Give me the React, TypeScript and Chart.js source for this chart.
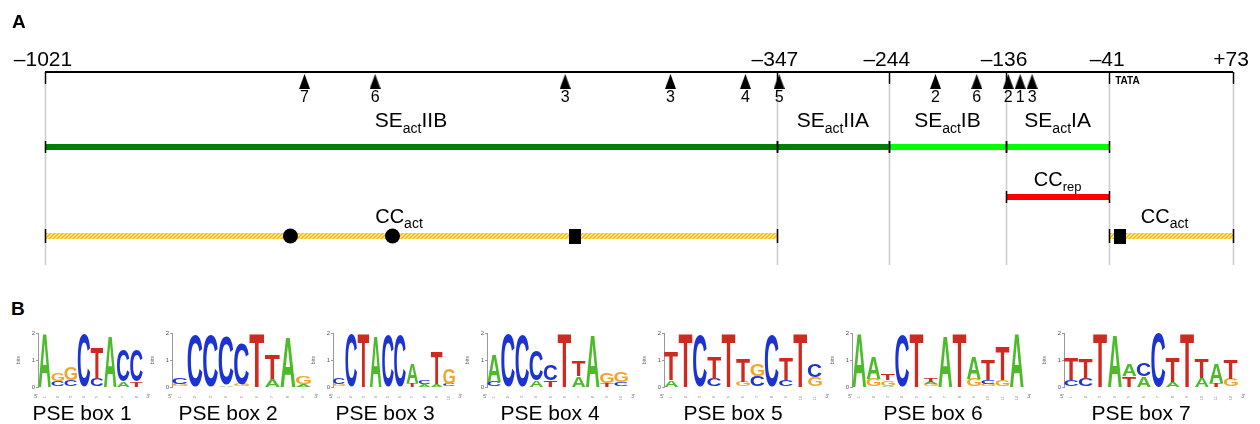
import React, { useEffect, useRef } from 'react';
import { Chart, registerables } from 'chart.js';
Chart.register(...registerables);

// ---------------- Panel A data (bp positions) ----------------
const AXIS_START = -1021;
const AXIS_END = 73;
const AXIS_TICKS = [-1021, -347, -244, -136, -41, 73];
const AXIS_TICK_LABELS = ['–1021', '–347', '–244', '–136', '–41', '+73'];
const ARROW_POS = [-782, -717, -542, -445, -376, -345, -201, -163, -134, -123, -112];
const ARROW_LABELS = ['7', '6', '3', '3', '4', '5', '2', '6', '2', '1', '3'];
const SE_START = [-1021, -347, -244, -136];
const SE_END = [-347, -244, -136, -41];
const SE_NAMES = ['IIB', 'IIA', 'IB', 'IA'];
const SE_COLORS = ['#008000', '#008000', '#00ff00', '#00ff00'];
const CCREP_START = [-136];
const CCREP_END = [-41];
const CCACT_START = [-1021, -41];
const CCACT_END = [-347, 73];
const CCACT_LABEL_POS = [-695, 10];
const CIRCLE_POS = [-795, -701];
const SQUARE_POS = [-533, -31];
const TATA_POS = -41;

// ---------------- Panel B data (sequence logos, bottom -> top, bits) ----------------
type Col = [string, number][];
const PSE1: Col[] = [
  [['A', 2.0]],
  [['C', 0.2], ['G', 0.28]],
  [['C', 0.25], ['G', 0.5]],
  [['C', 1.95]],
  [['C', 0.3], ['T', 1.15]],
  [['A', 1.9]],
  [['A', 0.2], ['C', 1.15]],
  [['T', 0.2], ['C', 1.15]],
];
const PSE2: Col[] = [
  [['G', 0.12], ['C', 0.25]],
  [['C', 1.9]],
  [['C', 1.9]],
  [['A', 0.08], ['C', 1.82]],
  [['G', 0.1], ['C', 1.5]],
  [['T', 2.0]],
  [['A', 0.3], ['T', 0.9]],
  [['A', 1.85]],
  [['A', 0.12], ['G', 0.3]],
];
const PSE3: Col[] = [
  [['G', 0.1], ['C', 0.25]],
  [['C', 1.95]],
  [['T', 2.0]],
  [['A', 1.9]],
  [['C', 1.9]],
  [['C', 1.9]],
  [['T', 0.15], ['A', 0.7]],
  [['A', 0.1], ['C', 0.12]],
  [['A', 0.12], ['T', 1.2]],
  [['C', 0.12], ['G', 0.6]],
];
const PSE4: Col[] = [
  [['C', 0.2], ['A', 1.0]],
  [['C', 1.95]],
  [['C', 1.9]],
  [['A', 0.25], ['C', 1.1]],
  [['T', 0.25], ['C', 0.6]],
  [['T', 2.0]],
  [['A', 0.4], ['T', 0.55]],
  [['A', 1.95]],
  [['T', 0.15], ['G', 0.4]],
  [['C', 0.18], ['G', 0.4]],
];
const PSE5: Col[] = [
  [['A', 0.25], ['T', 1.05]],
  [['T', 2.0]],
  [['C', 1.9]],
  [['C', 0.3], ['T', 0.8]],
  [['T', 2.0]],
  [['G', 0.2], ['T', 0.85]],
  [['C', 0.4], ['G', 0.45]],
  [['C', 1.9]],
  [['C', 0.25], ['T', 0.8]],
  [['T', 2.0]],
  [['G', 0.35], ['C', 0.5]],
];
const PSE6: Col[] = [
  [['A', 2.0]],
  [['G', 0.3], ['A', 0.8]],
  [['A', 0.05], ['G', 0.2], ['T', 0.25]],
  [['C', 1.9]],
  [['T', 2.0]],
  [['G', 0.1], ['A', 0.1], ['T', 0.15]],
  [['A', 1.9]],
  [['T', 2.0]],
  [['G', 0.3], ['A', 0.8]],
  [['G', 0.1], ['C', 0.15], ['T', 0.75]],
  [['G', 0.25], ['T', 1.25]],
  [['A', 2.0]],
];
const PSE7: Col[] = [
  [['C', 0.25], ['T', 0.8]],
  [['C', 0.3], ['T', 0.75]],
  [['T', 2.0]],
  [['A', 1.95]],
  [['T', 0.4], ['A', 0.43]],
  [['A', 0.4], ['C', 0.5]],
  [['C', 2.0]],
  [['A', 0.2], ['T', 0.9]],
  [['T', 2.0]],
  [['A', 0.35], ['T', 0.7]],
  [['T', 0.15], ['A', 0.7]],
  [['G', 0.3], ['T', 0.7]],
];
const LOGOS = [PSE1, PSE2, PSE3, PSE4, PSE5, PSE6, PSE7];
const LOGO_NAMES = ['PSE box 1', 'PSE box 2', 'PSE box 3', 'PSE box 4', 'PSE box 5', 'PSE box 6', 'PSE box 7'];

// ---------------- layout / style ----------------
const FAM = '"Liberation Sans", Arial, Helvetica, sans-serif';
const ROW = { axis: 72, tickBottom: 84, arrow: 81.5, arrowLabel: 102, tickLabel: 66, seLabel: 127, se: 147, repLabel: 186, rep: 197, actLabel: 223, act: 236, gridBottom: 265 };
const LOGO_AXIS_X = [38, 172, 333, 487, 664, 852, 1064];
const LOGO_END_X = [143, 311, 455, 628, 822, 1024, 1238];
const LOGO_LABEL_X = [82, 228, 385, 550, 733, 933, 1141];
const LOGO_TOP = 333;
const LETTER_COLORS: Record<string, string> = { A: '#4cbb2a', C: '#1c33d4', G: '#f3a52a', T: '#cf2a1f' };

function drawParts(ctx: CanvasRenderingContext2D, parts: [string, boolean][], cx: number, baseline: number, big: number, small: number, drop: number) {
  const widths = parts.map(([t, sub]) => {
    ctx.font = `${sub ? small : big}px ${FAM}`;
    return ctx.measureText(t).width;
  });
  const total = widths.reduce((a, b) => a + b, 0);
  let x = cx - total / 2;
  ctx.textAlign = 'left';
  ctx.textBaseline = 'alphabetic';
  parts.forEach(([t, sub], i) => {
    ctx.font = `${sub ? small : big}px ${FAM}`;
    ctx.fillText(t, x, baseline + (sub ? drop : 0));
    x += widths[i];
  });
}

function drawLetter(ctx: CanvasRenderingContext2D, ch: string, x0: number, y0: number, w: number, h: number) {
  if (h < 0.4 || w < 0.5) return;
  ctx.save();
  ctx.font = `bold 100px ${FAM}`;
  ctx.textAlign = 'left';
  ctx.textBaseline = 'alphabetic';
  const m = ctx.measureText(ch);
  const gw = m.actualBoundingBoxLeft + m.actualBoundingBoxRight;
  const gh = m.actualBoundingBoxAscent + m.actualBoundingBoxDescent;
  ctx.translate(x0, y0);
  ctx.scale(w / gw, h / gh);
  ctx.fillStyle = LETTER_COLORS[ch] || '#000';
  ctx.fillText(ch, m.actualBoundingBoxLeft, m.actualBoundingBoxAscent);
  ctx.restore();
}

function makeHatch(): CanvasPattern | string {
  const c = document.createElement('canvas');
  c.width = 4; c.height = 4;
  const g = c.getContext('2d');
  if (!g) return '#f5c400';
  g.fillStyle = '#fff5cf';
  g.fillRect(0, 0, 4, 4);
  g.strokeStyle = '#f2bc00';
  g.lineWidth = 1.6;
  g.beginPath();
  g.moveTo(0, 4); g.lineTo(4, 0);
  g.moveTo(-1, 1); g.lineTo(1, -1);
  g.moveTo(3, 5); g.lineTo(5, 3);
  g.stroke();
  const p = g.createPattern(c, 'repeat');
  return p || '#f5c400';
}

function makeShape(w: number, h: number, tri: boolean): HTMLCanvasElement {
  const c = document.createElement('canvas');
  c.width = w; c.height = h;
  const g = c.getContext('2d')!;
  g.fillStyle = '#000';
  if (tri) {
    g.beginPath();
    g.moveTo(w / 2, 0); g.lineTo(w, h); g.lineTo(0, h); g.closePath(); g.fill();
  } else {
    g.fillRect(0, 0, w, h);
  }
  return c;
}

function seg(x1: number, x2: number, y: number) {
  return [{ x: x1, y }, { x: x2, y }];
}

function buildPanelA(canvas: HTMLCanvasElement): Chart {
  const hatch = makeHatch();
  const arrow = makeShape(11, 15, true);
  const square = makeShape(12, 15, false);
  const lineDs = (data: any, color: any, width: number) => ({
    type: 'line' as const, data, borderColor: color, borderWidth: width, pointRadius: 0,
    borderCapStyle: 'butt' as const, showLine: true, fill: false, tension: 0, order: 2,
  });
  const datasets: any[] = [];
  datasets.push({ type: 'scatter', order: 0, data: ARROW_POS.map(x => ({ x, y: ROW.arrow })), pointStyle: arrow, pointRadius: 6, backgroundColor: '#000', borderColor: '#000' });
  datasets.push({ type: 'scatter', order: 0, data: CIRCLE_POS.map(x => ({ x, y: ROW.act })), pointStyle: 'circle', pointRadius: 7.5, backgroundColor: '#000', borderColor: '#000', borderWidth: 0 });
  datasets.push({ type: 'scatter', order: 0, data: SQUARE_POS.map(x => ({ x, y: ROW.act })), pointStyle: square, pointRadius: 6, backgroundColor: '#000', borderColor: '#000' });
  datasets.push(lineDs(seg(AXIS_START, AXIS_END, ROW.axis), '#000', 2));
  SE_START.forEach((s, i) => datasets.push(lineDs(seg(s, SE_END[i], ROW.se), SE_COLORS[i], 6)));
  CCREP_START.forEach((s, i) => datasets.push(lineDs(seg(s, CCREP_END[i], ROW.rep), '#ff0000', 6)));
  CCACT_START.forEach((s, i) => datasets.push(lineDs(seg(s, CCACT_END[i], ROW.act), hatch, 6)));

  const decor = {
    id: 'decor',
    beforeDatasetsDraw(chart: any) {
      const { ctx, scales } = chart;
      const xs = scales.x, ys = scales.y;
      ctx.save();
      ctx.strokeStyle = '#cdcdcd';
      ctx.lineWidth = 1.6;
      AXIS_TICKS.forEach(v => {
        const x = Math.round(xs.getPixelForValue(v)) + 0.5;
        ctx.beginPath();
        ctx.moveTo(x, ys.getPixelForValue(ROW.tickBottom));
        ctx.lineTo(x, ys.getPixelForValue(ROW.gridBottom));
        ctx.stroke();
      });
      ctx.restore();
    },
    afterDatasetsDraw(chart: any) {
      const { ctx, scales } = chart;
      const xs = scales.x, ys = scales.y;
      const px = (v: number) => Math.round(xs.getPixelForValue(v)) + 0.5;
      ctx.save();
      ctx.strokeStyle = '#000';
      ctx.lineWidth = 1.5;
      const tick = (v: number, y: number, half: number) => {
        const yy = ys.getPixelForValue(y);
        ctx.beginPath(); ctx.moveTo(px(v), yy - half); ctx.lineTo(px(v), yy + half); ctx.stroke();
      };
      AXIS_TICKS.forEach(v => {
        ctx.beginPath();
        ctx.moveTo(px(v), ys.getPixelForValue(ROW.axis));
        ctx.lineTo(px(v), ys.getPixelForValue(ROW.tickBottom));
        ctx.stroke();
      });
      SE_START.forEach((s, i) => { tick(s, ROW.se, 6); tick(SE_END[i], ROW.se, 6); });
      CCREP_START.forEach((s, i) => { tick(s, ROW.rep, 6); tick(CCREP_END[i], ROW.rep, 6); });
      CCACT_START.forEach((s, i) => { tick(s, ROW.act, 7); tick(CCACT_END[i], ROW.act, 7); });

      ctx.fillStyle = '#000';
      ctx.font = `bold 19px ${FAM}`;
      ctx.textAlign = 'left'; ctx.textBaseline = 'alphabetic';
      ctx.fillText('A', 12, 28);
      ctx.font = `21px ${FAM}`;
      ctx.textAlign = 'center';
      AXIS_TICKS.forEach((v, i) => ctx.fillText(AXIS_TICK_LABELS[i], xs.getPixelForValue(v) - 2, ys.getPixelForValue(ROW.tickLabel)));
      ctx.font = `16px ${FAM}`;
      ARROW_POS.forEach((v, i) => ctx.fillText(ARROW_LABELS[i], xs.getPixelForValue(v), ys.getPixelForValue(ROW.arrowLabel)));
      ctx.font = `bold 10px ${FAM}`;
      ctx.textAlign = 'left';
      ctx.fillText('TATA', xs.getPixelForValue(TATA_POS) + 6, ys.getPixelForValue(ROW.tickBottom));
      SE_START.forEach((s, i) => {
        const cx = (xs.getPixelForValue(s) + xs.getPixelForValue(SE_END[i])) / 2;
        drawParts(ctx, [['SE', false], ['act', true], [SE_NAMES[i], false]], cx, ys.getPixelForValue(ROW.seLabel), 21, 14, 6);
      });
      CCREP_START.forEach((s, i) => {
        const cx = (xs.getPixelForValue(s) + xs.getPixelForValue(CCREP_END[i])) / 2;
        drawParts(ctx, [['CC', false], ['rep', true]], cx, ys.getPixelForValue(ROW.repLabel), 20, 13, 5);
      });
      CCACT_LABEL_POS.forEach(v => {
        drawParts(ctx, [['CC', false], ['act', true]], xs.getPixelForValue(v), ys.getPixelForValue(ROW.actLabel), 20, 14, 5);
      });
      ctx.restore();
    },
  };

  return new Chart(canvas, {
    type: 'scatter',
    data: { datasets },
    options: {
      animation: false,
      responsive: false,
      events: [],
      layout: { autoPadding: false, padding: { left: 45, right: 27, top: 0, bottom: 0 } },
      plugins: { legend: { display: false }, tooltip: { enabled: false } },
      scales: {
        x: { type: 'linear', min: AXIS_START, max: AXIS_END, display: false },
        y: { type: 'linear', min: 0, max: 290, reverse: true, display: false },
      },
    },
    plugins: [decor],
  } as any);
}

function buildLogo(canvas: HTMLCanvasElement, cols: Col[]): Chart {
  const depth = Math.max(...cols.map(c => c.length));
  const datasets: any[] = [];
  for (let k = 0; k < depth; k++) {
    datasets.push({
      data: cols.map(c => (c[k] ? c[k][1] : 0)),
      letters: cols.map(c => (c[k] ? c[k][0] : '')),
      backgroundColor: 'rgba(0,0,0,0)',
      borderWidth: 0,
      barPercentage: 1,
      categoryPercentage: 1,
    });
  }
  const letters = {
    id: 'letters',
    afterDatasetsDraw(chart: any) {
      const ctx = chart.ctx;
      chart.data.datasets.forEach((ds: any, di: number) => {
        const meta = chart.getDatasetMeta(di);
        meta.data.forEach((el: any, i: number) => {
          const ch = ds.letters[i];
          if (!ch) return;
          const p = el.getProps(['x', 'y', 'base', 'width'], true);
          drawLetter(ctx, ch, p.x - p.width / 2 + 0.3, Math.min(p.y, p.base), p.width - 0.6, Math.abs(p.base - p.y));
        });
      });
      const a = chart.chartArea;
      ctx.save();
      ctx.fillStyle = '#666';
      ctx.font = `5px ${FAM}`;
      ctx.textAlign = 'center';
      ctx.fillText("5'", a.left - 2, a.bottom + 11);
      ctx.fillText("3'", a.right + 5, a.bottom + 11);
      ctx.restore();
    },
  };
  return new Chart(canvas, {
    type: 'bar',
    data: { labels: cols.map((_, i) => String(i + 1)), datasets },
    options: {
      animation: false,
      responsive: false,
      events: [],
      layout: { autoPadding: false, padding: { left: 0, top: 11, right: 10, bottom: 0 } },
      plugins: { legend: { display: false }, tooltip: { enabled: false } },
      scales: {
        x: {
          stacked: true,
          grid: { display: false },
          border: { display: false },
          ticks: { font: { size: 4, family: FAM }, color: '#888', padding: 1, minRotation: 90, maxRotation: 90 },
          afterFit: (s: any) => { s.height = 15; },
        },
        y: {
          stacked: true,
          min: 0,
          max: 2,
          ticks: { stepSize: 1, font: { size: 6, family: FAM }, color: '#555', padding: 1 },
          grid: { display: true, drawOnChartArea: false, tickLength: 2, color: '#999' },
          border: { display: true, color: '#999', width: 1 },
          title: { display: true, text: 'bits', font: { size: 5, family: FAM }, color: '#666', padding: 0 },
          afterFit: (s: any) => { s.width = 22; },
        },
      },
    },
    plugins: [letters],
  } as any);
}

export default function App() {
  const aRef = useRef<HTMLCanvasElement | null>(null);
  const logoRefs = useRef<(HTMLCanvasElement | null)[]>([]);

  useEffect(() => {
    const charts: Chart[] = [];
    if (aRef.current) charts.push(buildPanelA(aRef.current));
    LOGOS.forEach((cols, i) => {
      const c = logoRefs.current[i];
      if (c) charts.push(buildLogo(c, cols));
    });
    return () => charts.forEach(c => c.destroy());
  }, []);

  return (
    <div style={{ position: 'fixed', left: 0, top: 0, width: 1260, height: 424, background: '#fff', overflow: 'hidden', fontFamily: FAM, color: '#000' }}>
      <canvas ref={aRef} width={1260} height={290} style={{ position: 'absolute', left: 0, top: 0 }} />
      {LOGOS.map((_, i) => {
        const left = LOGO_AXIS_X[i] - 22;
        const width = LOGO_END_X[i] - LOGO_AXIS_X[i] + 22 + 10;
        return (
          <canvas
            key={i}
            ref={el => { logoRefs.current[i] = el; }}
            width={width}
            height={80}
            style={{ position: 'absolute', left, top: LOGO_TOP - 11 }}
          />
        );
      })}
      <div style={{ position: 'absolute', left: 11, top: 299, fontSize: 19, lineHeight: '19px', fontWeight: 'bold' }}>B</div>
      {LOGO_NAMES.map((n, i) => (
        <div key={n} style={{ position: 'absolute', left: LOGO_LABEL_X[i] - 70, width: 140, top: 402, textAlign: 'center', fontSize: 21, lineHeight: '21px', whiteSpace: 'nowrap' }}>{n}</div>
      ))}
    </div>
  );
}
